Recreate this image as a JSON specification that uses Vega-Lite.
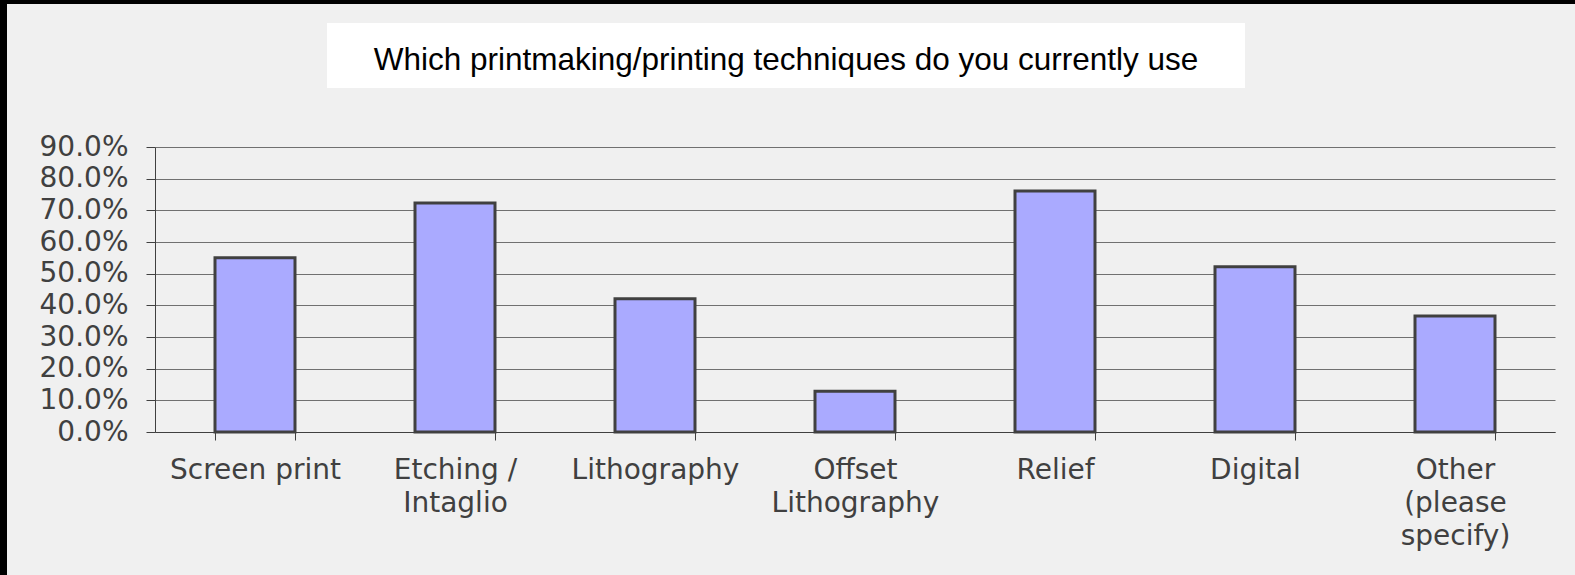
{
  "$schema": "https://vega.github.io/schema/vega-lite/v6.json",
  "padding": 0,
  "background": "#f0f0f0",
  "config": {"view": {"stroke": null}, "concat": {"spacing": 0}},
  "bounds": "flush",
  "spacing": 0,
  "hconcat": [
    {"width": 7, "height": 575, "data": {"values": []}, "mark": "rect", "encoding": {}, "view": {"fill": "#000000", "stroke": null}},
    {
      "bounds": "flush",
      "spacing": 0,
      "vconcat": [
        {"width": 1568, "height": 4, "data": {"values": []}, "mark": "rect", "encoding": {}, "view": {"fill": "#000000", "stroke": null}},
        {"width": 1568, "height": 19, "data": {"values": []}, "mark": "rect", "encoding": {}},
        {
          "bounds": "flush",
          "spacing": 0,
          "hconcat": [
            {"width": 320, "height": 65, "data": {"values": []}, "mark": "rect", "encoding": {}},
            {
              "width": 918,
              "height": 65,
              "view": {"fill": "#ffffff", "stroke": null},
              "data": {"values": [{"title": "Which printmaking/printing techniques do you currently use"}]},
              "mark": {"type": "text", "font": "Liberation Sans", "fontSize": 31.5, "color": "#000000", "baseline": "alphabetic", "align": "center", "dy": 14},
              "encoding": {"text": {"field": "title", "type": "nominal"}}
            }
          ]
        },
        {"width": 1568, "height": 124, "data": {"values": []}, "mark": "rect", "encoding": {}},
        {
          "bounds": "flush",
          "spacing": 0,
          "hconcat": [
            {"width": 148, "height": 285, "data": {"values": []}, "mark": "rect", "encoding": {}},
            {
              "width": 1400,
              "height": 285,
              "data": {"values": [
                {"technique": "Screen print", "share": 0.550},
                {"technique": "Etching / Intaglio", "share": 0.723},
                {"technique": "Lithography", "share": 0.421},
                {"technique": "Offset Lithography", "share": 0.129},
                {"technique": "Relief", "share": 0.761},
                {"technique": "Digital", "share": 0.522},
                {"technique": "Other (please specify)", "share": 0.366}
              ]},
              "mark": {"type": "bar", "fill": "#aaaaff", "stroke": "#404040", "strokeWidth": 3},
              "encoding": {
                "x": {
                  "field": "technique",
                  "type": "nominal",
                  "sort": null,
                  "scale": {"paddingInner": 0.6, "paddingOuter": 0.3},
                  "axis": {
                    "title": null,
                    "labelAngle": 0,
                    "labelFont": "DejaVu Sans",
                    "labelFontSize": 28,
                    "labelColor": "#404040",
                    "labelLineHeight": 33,
                    "labelBaseline": "top",
                    "labelAlign": "center",
                    "labelPadding": 16,
                    "labelOverlap": false,
                    "labelLimit": 400,
                    "tickBand": "extent",
                    "tickSize": 8,
                    "tickColor": "#404040",
                    "domainColor": "#404040",
                    "grid": false,
                    "labelExpr": "datum.value == 'Etching / Intaglio' ? ['Etching /', 'Intaglio'] : datum.value == 'Offset Lithography' ? ['Offset', 'Lithography'] : datum.value == 'Other (please specify)' ? ['Other', '(please', 'specify)'] : datum.value"
                  }
                },
                "y": {
                  "field": "share",
                  "type": "quantitative",
                  "scale": {"domain": [0, 0.9], "nice": false},
                  "axis": {
                    "title": null,
                    "format": ".1%",
                    "values": [0, 0.1, 0.2, 0.3, 0.4, 0.5, 0.6, 0.7, 0.8, 0.9],
                    "labelFont": "DejaVu Sans",
                    "labelFontSize": 28,
                    "labelColor": "#404040",
                    "labelPadding": 18,
                    "tickSize": 9,
                    "tickColor": "#404040",
                    "domainColor": "#404040",
                    "grid": true,
                    "gridColor": "#707070",
                    "gridWidth": 1
                  }
                }
              }
            }
          ]
        }
      ]
    }
  ]
}
